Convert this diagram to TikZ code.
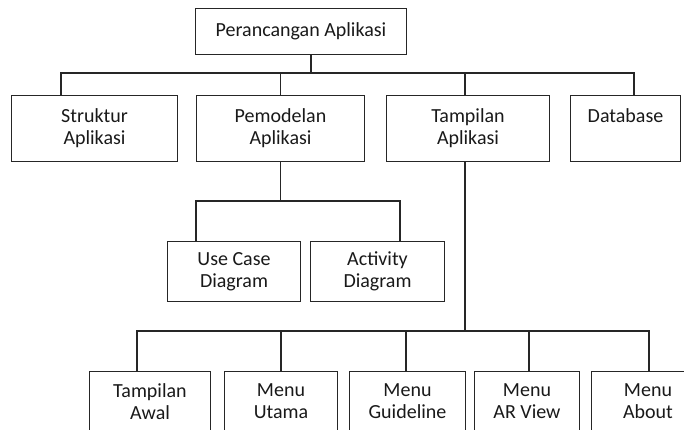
\documentclass[tikz,border=0pt]{standalone}
\usepackage{fontspec}
\setmainfont{Carlito}
\usetikzlibrary{positioning}
\tikzset{
    font=\fontsize{20}{22}\selectfont,
    % Boxes
    box/.style={rectangle, draw=black!85, line width=1.7pt, align=center, inner sep=0pt, text=black!90},
    rowTwo/.style={box, minimum height=66pt},
    rowThree/.style={box, minimum height=60pt},
    rowFour/.style={box, minimum height=60pt},
    % Lines
    link/.style={draw=black!85, line width=1.7pt}
}

\begin{document}
\begin{tikzpicture}[x=1pt, y=-1pt]
\useasboundingbox (0,0) rectangle (684,429);
\clip (0,0) rectangle (684,429);

\node[box, minimum width=211pt, minimum height=46pt] (root) at (301,31.5) {Perancangan Aplikasi};

\node[rowTwo, minimum width=166pt] (struktur) at (94.5,128.5) {Struktur\\Aplikasi};
\node[rowTwo, minimum width=168pt] (pemodelan) at (280.5,128.5) {Pemodelan\\Aplikasi};
\node[rowTwo, minimum width=163pt] (tampilan) at (468,128.5) {Tampilan\\Aplikasi};
\node[rowTwo, minimum width=110pt] (database) at (625.5,128.5) {Database\\\phantom{Aplikasi}};

\node[rowThree, minimum width=133pt] (usecase) at (234,271.5) {Use Case\\Diagram};
\node[rowThree, minimum width=134pt] (activity) at (377.5,271.5) {Activity\\Diagram};

\node[rowFour, minimum width=121pt] (awal) at (150,401.5) {Tampilan\\Awal};
\node[rowFour, minimum width=113pt] (utama) at (281,401.5) {Menu\\Utama};
\node[rowFour, minimum width=116pt] (guideline) at (407.5,401.5) {Menu\\Guideline};
\node[rowFour, minimum width=105pt] (arview) at (527,401.5) {Menu\\AR View};
\node[rowFour, minimum width=113pt] (about) at (648,401.5) {Menu\\About};

\coordinate (busTop) at (311,73);
\coordinate (busMid) at (280.5,201);
\coordinate (busLow) at (465,331);

\draw[link] ([xshift=10pt]root.south) -- (busTop);
\draw[link] ([xshift=-33.5pt]struktur.north) |- (busTop) -| ([xshift=8.5pt]database.north);
\draw[link] (pemodelan.north) -- (pemodelan.north |- busTop);
\draw[link] ([xshift=-3pt]tampilan.north) -- ([xshift=-3pt]tampilan.north |- busTop);

\draw[link] (pemodelan.south) -- (busMid);
\draw[link] ([xshift=-38pt]usecase.north) |- (busMid) -| ([xshift=22.5pt]activity.north);

\draw[link] ([xshift=-3pt]tampilan.south) -- (busLow);
\draw[link] ([xshift=-13pt]awal.north) |- (busLow) -| ([xshift=1pt]about.north);
\draw[link] (utama.north) -- (utama.north |- busLow);
\draw[link] ([xshift=-1.5pt]guideline.north) -- ([xshift=-1.5pt]guideline.north |- busLow);
\draw[link] ([xshift=2pt]arview.north) -- ([xshift=2pt]arview.north |- busLow);

\end{tikzpicture}
\end{document}
